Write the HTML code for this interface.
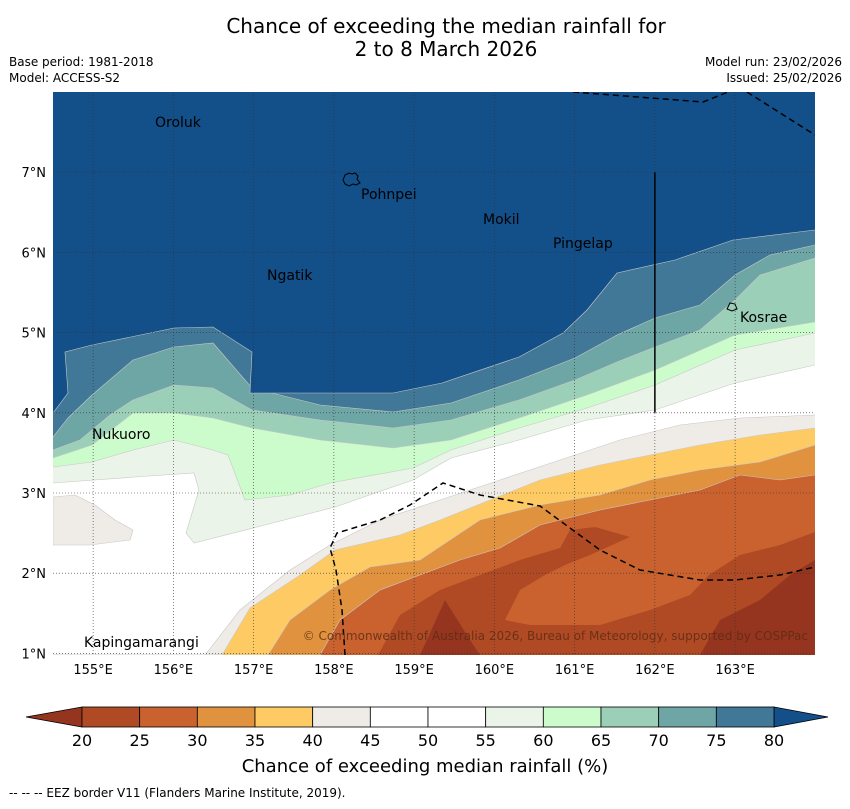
<!DOCTYPE html>
<html><head><meta charset="utf-8"><style>
html,body{margin:0;padding:0;background:#fff;}
svg text{font-family:"DejaVu Sans","Liberation Sans",sans-serif;}
</style></head><body>
<svg id="chart" width="850" height="804" viewBox="0 0 850 804" xmlns="http://www.w3.org/2000/svg">
<text x="446" y="33" font-size="20" text-anchor="middle">Chance of exceeding the median rainfall for</text>
<text x="446" y="56" font-size="20" text-anchor="middle">2 to 8 March 2026</text>
<text x="9" y="66" font-size="12">Base period: 1981-2018</text>
<text x="9" y="82" font-size="12">Model: ACCESS-S2</text>
<text x="842" y="66" font-size="12" text-anchor="end">Model run: 23/02/2026</text>
<text x="842" y="82" font-size="12" text-anchor="end">Issued: 25/02/2026</text>
<defs><clipPath id="mapclip"><rect x="53" y="92" width="762" height="563"/></clipPath></defs>
<g id="map" clip-path="url(#mapclip)"></g>
<g id="axes"></g>
<g id="cbar"></g>
<text x="425" y="772" font-size="18" text-anchor="middle">Chance of exceeding median rainfall (%)</text>
<text x="9" y="797" font-size="12">--  --  -- EEZ border V11 (Flanders Marine Institute, 2019).</text>
</svg>
<script>
// ---- data ----
const levels = [20,25,30,35,40,45,50,55,60,65,70,75,80];
const bandColors = ["#b04a25","#c9622f","#e0923f","#fdca64","#efebe7","#ffffff","#ffffff","#eaf4e8","#ccfccb","#9bcfb8","#6ea6a6","#417898"];
const underColor = "#96351f";
const overColor = "#134f88";
const lonTicks = [155,156,157,158,159,160,161,162,163];
const latTicks = [1,2,3,4,5,6,7];
const px2lon = x => 154.5 + (x-53)/80.25;
const px2lat = y => 8 - (y-92)/80.2;
const P = a => a.map(p => [px2lon(p[0]), px2lat(p[1])]);
const upperContours = {
 55: P([[53,483],[135,477],[194,473],[199,490],[186,533],[194,543],[257,527],[335,507],[413,480],[451,458],[519,440],[587,420],[655,410],[735,383],[815,365]]),
 60: P([[53,467],[92,462],[133,450],[174,440],[213,450],[228,455],[245,500],[290,495],[330,483],[413,468],[451,450],[519,428],[587,408],[655,385],[735,350],[815,333]]),
 65: P([[53,458],[92,445],[133,413],[174,413],[213,418],[252,428],[320,440],[393,448],[451,440],[519,418],[587,395],[655,370],[735,335],[815,322]]),
 70: P([[53,450],[80,440],[110,415],[133,400],[174,385],[213,388],[252,410],[320,420],[393,428],[451,420],[519,400],[575,380],[617,362],[655,347],[700,330],[735,300],[760,275],[815,258]]),
 75: P([[53,437],[68,418],[92,395],[133,360],[174,347],[213,343],[252,388],[320,405],[393,412],[451,403],[519,380],[575,358],[617,335],[655,318],[700,305],[735,275],[770,255],[815,245]]),
 80: P([[53,413],[68,393],[65,352],[92,345],[174,328],[213,327],[252,352],[250,393],[393,393],[442,383],[519,357],[563,333],[587,310],[617,273],[675,260],[733,240],[815,230]])
};
const lowerContours = {
 45: P([[205,655],[240,610],[290,570],[330,545],[380,520],[440,500],[500,480],[560,460],[620,440],[680,425],[740,418],[815,415]]),
 40: P([[222,655],[250,608],[300,575],[335,550],[400,535],[440,520],[490,500],[540,480],[600,465],[650,455],[700,445],[760,435],[815,428]]),
 35: P([[268,655],[290,620],[330,590],[370,567],[420,560],[480,520],[540,505],[600,495],[650,480],[700,470],[760,462],[815,445]]),
 30: P([[320,655],[340,620],[380,590],[420,575],[460,560],[500,548],[540,525],[600,510],[650,500],[700,490],[740,475],[780,480],[815,475]])
};
const blobs = [
 [4, P([[53,497],[75,495],[95,505],[115,520],[133,530],[130,540],[90,545],[53,545]])],
 [0, P([[378,655],[400,615],[440,590],[480,575],[520,560],[560,548],[570,530],[595,527],[630,537],[590,555],[565,565],[545,575],[520,590],[505,620],[530,625],[600,625],[650,610],[690,595],[709,575],[740,555],[780,545],[815,532],[815,655]])],
 [-1, P([[420,655],[445,600],[470,640],[480,655]])],
 [-1, P([[700,655],[720,620],[760,600],[790,575],[815,560],[815,655]])]
];
const eezLines = [
 P([[345,655],[342,610],[336,570],[330,548],[337,533],[380,520],[410,505],[443,483],[480,495],[540,506],[570,528],[600,550],[640,570],[700,580],[735,580],[780,575],[815,567]]),
 P([[573,92],[703,102],[728,92]]),
 P([[747,92],[815,135]])
];
const islandNames = ["Oroluk","Pohnpei","Mokil","Pingelap","Ngatik","Kosrae","Nukuoro","Kapingamarangi"];
const islandLoc = P([[155,127],[361,199],[483,224],[553,248],[267,280],[740,322],[92,439],[84,647]]);
// ---- axes ----
const X = lon => 53 + (lon-154.5)*80.25;
const Y = lat => 92 + (8-lat)*80.2;
const NS = "http://www.w3.org/2000/svg";
function mk(tag, attrs, parent){const e=document.createElementNS(NS,tag);for(const k in attrs)e.setAttribute(k,attrs[k]);parent.appendChild(e);return e;}
const pts = arr => arr.map(p => X(p[0]).toFixed(1)+","+Y(p[1]).toFixed(1)).join(" ");
const map = document.getElementById('map');
let bg = mk('rect',{x:53,y:92,width:762,height:563,fill:"#ffffff"},map);


const topEdge = [[164.2,8.2],[154.3,8.2]], botEdge=[[164.2,0.8],[154.3,0.8]];
function edge(line, extra){const a=line.slice();const f=a[0],l=a[a.length-1];return [[154.3,f[1]],...a,[164.2,l[1]],...extra];}
[55,60,65,70,75,80].forEach(lv=>{
 const col = lv===80?overColor:bandColors[levels.indexOf(lv)];
 const p = mk('polygon',{points:pts(edge(upperContours[lv],topEdge)),fill:col,stroke:"#c8c8c8","stroke-width":0.6},map);
 
 
});
[45,40,35,30].forEach(lv=>{
 const col = bandColors[levels.indexOf(lv)-1];
 const p = mk('polygon',{points:pts(edge(lowerContours[lv],botEdge)),fill:col,stroke:"#c8c8c8","stroke-width":0.6},map);
 
 
});
blobs.forEach(b=>{
 const p = mk('polygon',{points:pts(b[1]),fill:b[0]<0?underColor:bandColors[b[0]],stroke:b[0]===4?"#c8c8c8":"none","stroke-width":0.6},map);
 
 
});
lonTicks.forEach(l=>{const g=mk('line',{x1:X(l),x2:X(l),y1:92,y2:655,stroke:"#333","stroke-width":0.6,"stroke-dasharray":"1,2"},map);
 
 });
latTicks.forEach(l=>{const g=mk('line',{x1:53,x2:815,y1:Y(l),y2:Y(l),stroke:"#333","stroke-width":0.6,"stroke-dasharray":"1,2"},map);
 
 });
eezLines.forEach(l=>{const e=mk('polyline',{points:pts(l),fill:"none",stroke:"#000","stroke-width":1.5,"stroke-dasharray":"6,4"},map);
 
 });
let v = mk('line',{x1:X(162),x2:X(162),y1:Y(7),y2:Y(4),stroke:"#000","stroke-width":1.5},map);


let po = mk('path',{d:"M343,180 l2,-5 l4,-2 l3,1 l3,-1 l3,3 l-1,3 l3,4 l-4,2 l-3,-1 l-4,2 l-4,-2 z",fill:"none",stroke:"#000","stroke-width":1},map);


let ko = mk('path',{d:"M727,309 l3,-6 l5,1 l2,5 l-5,2 z",fill:"none",stroke:"#000","stroke-width":1},map);


islandNames.forEach((n,i)=>{const t=mk('text',{x:X(islandLoc[i][0]),y:Y(islandLoc[i][1]),"font-size":14,fill:"#000"},map);t.textContent=n;
 
 });
let c = mk('text',{x:808,y:640,"font-size":12,fill:"#5a2a12","fill-opacity":0.8,"text-anchor":"end"},map);
c.textContent="© Commonwealth of Australia 2026, Bureau of Meteorology, supported by COSPPac";


const axes = document.getElementById('axes');
lonTicks.forEach(l=>{const t=mk('text',{x:X(l),y:674,"font-size":13,"text-anchor":"middle"},axes);t.textContent=l+"°E";
 
 });
latTicks.forEach(l=>{const t=mk('text',{x:46,y:Y(l)+5,"font-size":13,"text-anchor":"end"},axes);t.textContent=l+"°N";
 
 });
const cb = document.getElementById('cbar');
const cx0=82, cx1=774, cy0=707, cy1=727, bw=(cx1-cx0)/(levels.length-1);
let lt = mk('polygon',{points:`${cx0},${cy0} 26,717 ${cx0},${cy1}`,fill:underColor,stroke:"#000","stroke-width":0.8},cb);


let rt = mk('polygon',{points:`${cx1},${cy0} 828,717 ${cx1},${cy1}`,fill:overColor,stroke:"#000","stroke-width":0.8},cb);


bandColors.forEach((col,i)=>{const s=mk('rect',{x:cx0+i*bw,y:cy0,width:bw,height:cy1-cy0,fill:col,stroke:"#000","stroke-width":0.8},cb);
 
 });
levels.forEach((lv,i)=>{const t=mk('text',{x:cx0+i*bw,y:746,"font-size":16,"text-anchor":"middle"},cb);t.textContent=lv;
 
 });
</script>
</body></html>
